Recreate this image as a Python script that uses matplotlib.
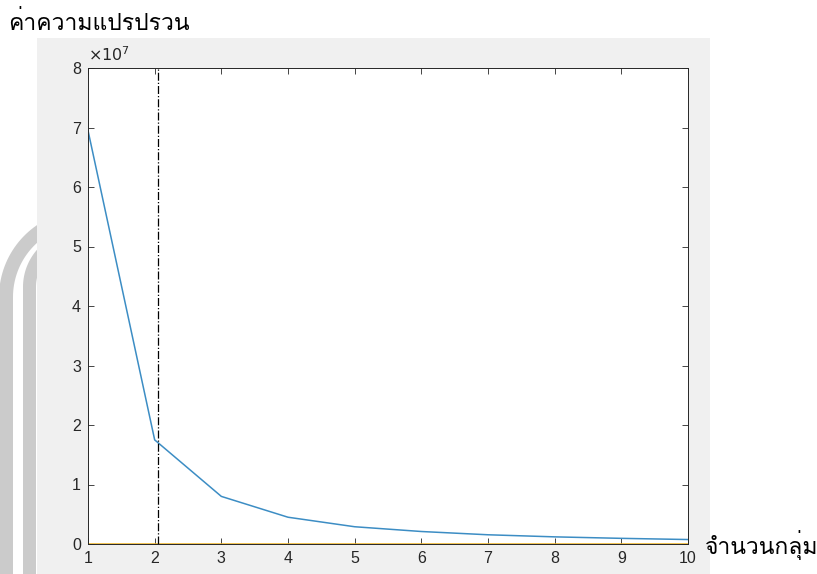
import numpy as np
import matplotlib.pyplot as plt
from matplotlib import font_manager
from matplotlib.ft2font import FT2Font
from matplotlib.patches import Rectangle
from matplotlib.lines import Line2D

# find an installed family that has Thai glyphs
thai_family = None
for f in font_manager.fontManager.ttflist:
    try:
        if FT2Font(f.fname).get_char_index(0x0E04):
            thai_family = f.name
            break
    except Exception:
        pass
families = [thai_family, 'DejaVu Sans'] if thai_family else ['DejaVu Sans']
plt.rcParams['font.family'] = families

clusters = [1, 2, 3, 4, 5, 6, 7, 8, 9, 10]
variance = [6.95e7, 1.75e7, 0.80e7, 0.45e7, 0.29e7, 0.21e7, 0.155e7, 0.12e7, 0.095e7, 0.075e7]
zero_line = [0] * 10
elbow_x = 2.05

x_label = 'จำนวนกลุ่ม'
y_label = 'ค่าความแปรปรวน'

W, H = 817, 574
fig = plt.figure(figsize=(W / 100, H / 100), dpi=100)
fig.patch.set_facecolor('white')


def band(x0, yc, r, width):
    # watermark stroke: vertical at x0 below yc, bending up to the right
    t = np.linspace(0, np.pi / 2, 40)
    xs = np.concatenate([[x0], x0 + r - r * np.cos(t)])
    ys = np.concatenate([[H + 10], yc - r * np.sin(t)])
    fig.add_artist(Line2D(xs / W, 1 - ys / H, transform=fig.transFigure,
                          color='#cbcbcb', linewidth=width * 0.72,
                          solid_capstyle='butt', zorder=-10))


band(6, 297, 80, 14)
band(29.5, 287, 50, 13)

fig.patches.append(Rectangle((37 / W, 0), (710 - 37) / W, 1 - 38 / H,
                             transform=fig.transFigure, facecolor='#f0f0f0',
                             edgecolor='none', zorder=-5))

ax = fig.add_axes([88 / W, 30 / H, 600 / W, 476 / H])
ax.set_facecolor('white')

ax.plot(clusters, variance, color='#3C8DC4', linewidth=1.1)
ax.plot(clusters, zero_line, color='#EDB120', linewidth=1.1)
ax.axvline(elbow_x, color='black', linestyle='-.', linewidth=0.9)

ax.set_xlim(1, 10)
ax.set_ylim(0, 8e7)
ax.set_xticks(clusters)
ax.set_yticks([i * 1e7 for i in range(9)])
ax.set_yticklabels([str(i) for i in range(9)])

ax.tick_params(direction='in', top=True, right=True, length=4, width=0.6,
               colors='#262626', labelsize=11.5, pad=5)
for lab in ax.get_xticklabels() + ax.get_yticklabels():
    lab.set_fontfamily('Liberation Sans')
for sp in ax.spines.values():
    sp.set_color('#262626')
    sp.set_linewidth(0.7)

ax.text(0.0, 1.006, r'$\times10^{7}$', transform=ax.transAxes, fontsize=11.5,
        color='#262626', ha='left', va='bottom')

fig.text(8 / W, 1 - 23 / H, y_label, fontsize=16.5, va='center', ha='left')
fig.text(705 / W, 29 / H, x_label, fontsize=16.5, va='center', ha='left')

fig.savefig('out.png', dpi=100)
